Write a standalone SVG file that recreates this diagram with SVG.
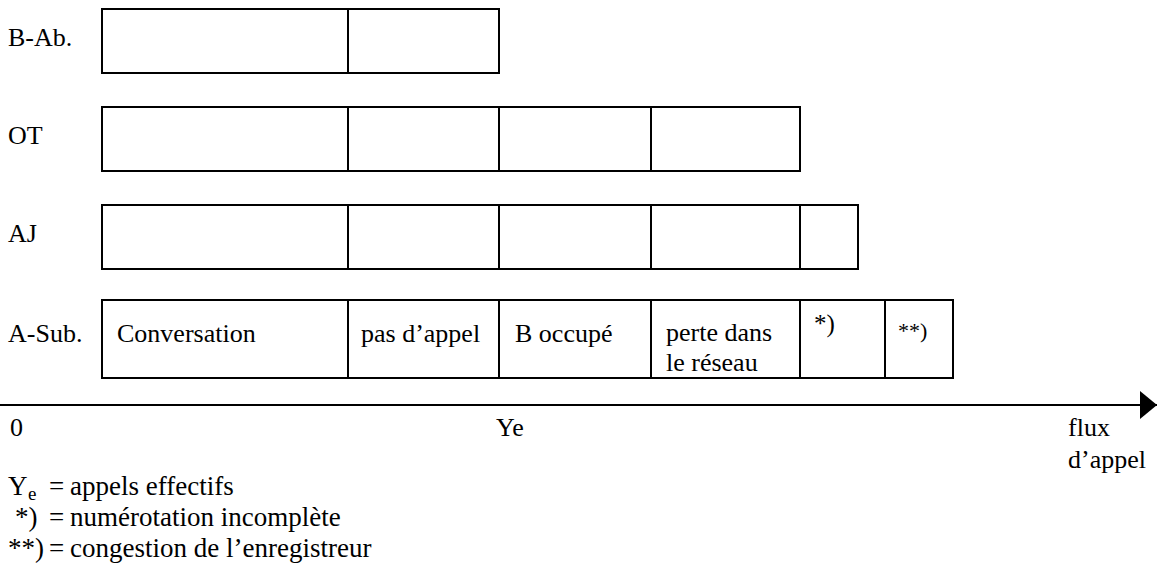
<svg xmlns="http://www.w3.org/2000/svg" width="1157" height="574" viewBox="0 0 1157 574">
<style>
text{font-family:'Liberation Serif','Times New Roman',serif;font-size:26px;fill:#000}
.lg{font-size:27px}
.b{fill:#fff;stroke:#000;stroke-width:2}
.d{stroke:#000;stroke-width:2}
.ax{stroke:#000;stroke-width:2}
</style>
<defs>
<marker id="arr" markerUnits="userSpaceOnUse" markerWidth="18" markerHeight="28" refX="17" refY="14" orient="auto">
<path d="M0,0 L17,14 L0,28 Z" fill="#000"/>
</marker>
</defs>
<g id="labels">
<text x="8" y="46">B-Ab.</text>
<text x="8" y="144">OT</text>
<text x="8" y="242">AJ</text>
<text x="8" y="342">A-Sub.</text>
</g>
<g id="row-bab">
<rect class="b" x="102" y="9" width="397" height="64"/>
<line class="d" x1="348" y1="9" x2="348" y2="73"/>
</g>
<g id="row-ot">
<rect class="b" x="102" y="107" width="698" height="64"/>
<line class="d" x1="348" y1="107" x2="348" y2="171"/>
<line class="d" x1="499" y1="107" x2="499" y2="171"/>
<line class="d" x1="651" y1="107" x2="651" y2="171"/>
</g>
<g id="row-aj">
<rect class="b" x="102" y="205" width="756" height="64"/>
<line class="d" x1="348" y1="205" x2="348" y2="269"/>
<line class="d" x1="499" y1="205" x2="499" y2="269"/>
<line class="d" x1="651" y1="205" x2="651" y2="269"/>
<line class="d" x1="800" y1="205" x2="800" y2="269"/>
</g>
<g id="row-asub">
<rect class="b" x="102" y="300" width="851" height="78"/>
<line class="d" x1="348" y1="300" x2="348" y2="378"/>
<line class="d" x1="499" y1="300" x2="499" y2="378"/>
<line class="d" x1="651" y1="300" x2="651" y2="378"/>
<line class="d" x1="800" y1="300" x2="800" y2="378"/>
<line class="d" x1="885" y1="300" x2="885" y2="378"/>
<text x="117" y="342">Conversation</text>
<text x="361" y="342">pas d’appel</text>
<text x="515" y="342">B occupé</text>
<text x="666" y="341">perte dans</text>
<text x="666" y="371">le réseau</text>
<text x="814" y="332" style="font-size:25px">*)</text>
<text x="898" y="338" style="font-size:22px">**)</text>
</g>
<g id="connectors">
<line class="ax" x1="0" y1="405" x2="1157" y2="405" marker-end="url(#arr)"/>
</g>
<g id="axis-labels">
<text x="10" y="436">0</text>
<text x="496" y="436">Ye</text>
<text x="1068" y="436">flux</text>
<text x="1068" y="468">d’appel</text>
</g>
<g id="legend">
<text class="lg" x="8" y="495">Y<tspan x="28" dy="5" style="font-size:19px">e</tspan><tspan x="49" dy="-5">=</tspan><tspan x="70">appels effectifs</tspan></text>
<text class="lg" x="15" y="526">*)<tspan x="49">=</tspan><tspan x="70">numérotation incomplète</tspan></text>
<text class="lg" x="8" y="557">**)<tspan x="49">=</tspan><tspan x="70">congestion de l’enregistreur</tspan></text>
</g>
</svg>
